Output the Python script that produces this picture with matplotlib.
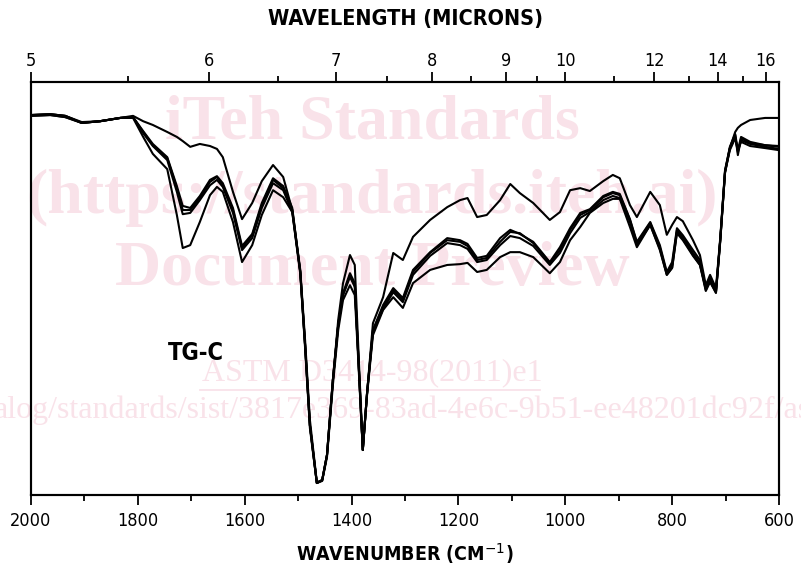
import matplotlib
matplotlib.use("Agg")
import matplotlib.pyplot as plt
import numpy as np

# wavenumber grid (cm-1)
wavenumber = [2000, 1964, 1936, 1905, 1871, 1833, 1809, 1790, 1772, 1745,
              1727, 1716, 1702, 1684, 1665, 1652, 1641, 1622, 1605, 1586,
              1568, 1547, 1528, 1511, 1496, 1487, 1478, 1465, 1455, 1446,
              1435, 1425, 1416, 1403, 1394, 1388, 1379, 1371, 1360, 1341,
              1322, 1304, 1285, 1253, 1221, 1197, 1183, 1165, 1147, 1122,
              1103, 1085, 1060, 1029, 1010, 991, 972, 954, 929, 911,
              898, 879, 866, 841, 823, 810, 800, 791, 780, 761,
              748, 737, 729, 718, 710, 701, 692, 682, 677, 671,
              654, 626, 600]

# transmittance (%) of the five spectra
spec_a = [92.0, 92.2, 91.8, 90.1, 90.5, 91.3, 91.8, 90.5, 89.6, 87.9,
          86.7, 85.7, 84.3, 85.0, 84.5, 83.8, 81.8, 73.4, 66.8, 70.7,
          76.0, 79.9, 77.0, 69.0, 54.5, 37.5, 18.2, 3.1, 3.6, 9.7,
          27.8, 42.4, 51.3, 58.1, 55.7, 37.5, 10.9, 24.7, 41.6, 47.9,
          58.6, 56.9, 62.5, 66.6, 69.7, 71.4, 71.9, 67.3, 67.8, 71.4,
          75.3, 73.1, 70.7, 66.6, 68.5, 73.8, 74.3, 73.6, 76.0, 77.5,
          76.7, 70.2, 67.3, 73.4, 70.2, 63.0, 65.4, 67.3, 66.3, 61.7,
          58.1, 50.8, 53.3, 50.1, 62.2, 78.7, 84.0, 87.9, 88.9, 89.6,
          90.8, 91.3, 91.3]
spec_b = [92.0, 92.2, 91.8, 90.1, 90.5, 91.3, 91.5, 87.9, 84.7, 81.6,
          74.3, 69.0, 69.0, 71.9, 75.8, 77.0, 75.0, 69.0, 59.8, 62.9,
          70.2, 76.3, 74.3, 69.0, 54.0, 36.3, 16.9, 2.9, 3.6, 9.7,
          27.8, 41.2, 48.4, 53.3, 50.8, 35.1, 10.9, 24.7, 39.9, 45.5,
          49.6, 47.2, 54.0, 58.6, 61.7, 61.3, 60.3, 56.9, 57.4, 61.3,
          63.7, 63.4, 61.0, 56.2, 59.3, 64.2, 67.8, 69.0, 72.1, 73.1,
          72.6, 66.6, 61.0, 65.9, 60.0, 53.7, 55.7, 64.2, 62.5, 58.6,
          56.2, 49.6, 52.1, 49.1, 61.7, 78.2, 84.0, 87.2, 82.3, 86.4,
          85.2, 84.7, 84.3]
spec_c = [91.8, 92.0, 91.5, 90.1, 90.5, 91.3, 91.5, 87.6, 84.5, 81.1,
          73.4, 68.0, 68.3, 71.4, 75.0, 76.3, 74.6, 68.3, 59.3, 62.2,
          69.5, 75.5, 73.8, 68.5, 54.0, 36.3, 16.9, 2.9, 3.6, 9.7,
          27.8, 41.2, 48.4, 52.8, 50.4, 35.1, 10.9, 24.7, 39.5, 45.0,
          49.1, 46.7, 53.3, 57.9, 61.0, 60.5, 59.6, 56.4, 56.9, 60.5,
          62.7, 62.2, 60.3, 55.7, 58.6, 63.4, 67.1, 68.5, 71.4, 72.4,
          71.9, 66.1, 60.5, 65.4, 59.6, 53.3, 55.0, 63.7, 62.0, 58.1,
          55.7, 49.4, 51.6, 48.9, 61.3, 78.0, 83.8, 86.7, 83.0, 85.9,
          85.0, 84.3, 83.8]
spec_d = [92.0, 92.2, 91.8, 90.3, 90.5, 91.3, 91.5, 88.1, 85.0, 81.8,
          74.8, 70.0, 69.5, 72.4, 76.3, 77.2, 75.5, 69.5, 60.3, 63.2,
          70.7, 76.7, 74.8, 69.5, 54.0, 36.3, 16.9, 2.9, 3.6, 9.7,
          27.8, 41.2, 48.9, 53.7, 51.3, 35.1, 10.9, 24.7, 39.9, 46.0,
          50.1, 47.7, 54.5, 58.8, 62.2, 61.7, 60.8, 57.4, 57.9, 62.2,
          64.2, 63.2, 61.3, 56.4, 60.0, 64.6, 68.3, 69.2, 72.4, 73.4,
          72.9, 66.8, 61.3, 66.1, 60.5, 54.0, 56.4, 64.6, 62.9, 59.3,
          56.9, 50.1, 52.5, 49.4, 61.7, 78.4, 84.3, 87.4, 83.5, 86.7,
          85.5, 84.7, 84.5]
spec_e = [91.8, 92.0, 91.5, 90.1, 90.5, 91.3, 91.3, 86.7, 82.6, 78.9,
          67.8, 59.8, 60.5, 66.1, 72.6, 74.6, 73.4, 66.1, 56.4, 60.5,
          67.8, 73.8, 72.1, 68.5, 53.5, 35.6, 16.2, 2.9, 3.4, 9.2,
          26.6, 39.9, 47.2, 50.8, 48.4, 33.9, 10.9, 24.2, 38.7, 44.8,
          47.9, 45.3, 51.3, 54.5, 55.7, 55.9, 56.2, 54.0, 54.5, 57.6,
          58.8, 58.8, 57.6, 53.7, 56.4, 61.7, 64.9, 68.3, 70.7, 71.7,
          71.7, 64.9, 60.0, 65.4, 59.3, 53.3, 55.0, 63.4, 61.7, 57.9,
          55.7, 50.1, 51.6, 49.1, 61.7, 78.2, 83.5, 86.4, 83.5, 85.5,
          84.5, 84.0, 83.5]

bottom_ticks = [2000, 1800, 1600, 1400, 1200, 1000, 800, 600]
bottom_minor = [1900, 1700, 1500, 1300, 1100, 900, 700]
top_microns = [5, 6, 7, 8, 9, 10, 12, 14, 16]
top_minor_microns = [5.5, 6.5, 7.5, 8.5, 9.5, 11, 13, 15]

lab = dict(family="DejaVu Sans", fontstretch="condensed")

fig = plt.figure(figsize=(8.01, 5.67), dpi=100)
ax = fig.add_axes([31 / 801, 1 - 495 / 567, 748 / 801, 413 / 567])

# watermark
wm = "#f9e2e9"
cx = 0.456
ax.text(cx, 0.9, "iTeh Standards", transform=ax.transAxes, ha="center", va="center",
        fontsize=46, fontweight="bold", family="Liberation Serif", color=wm, zorder=0)
ax.text(cx, 0.72, "(https://standards.iteh.ai)", transform=ax.transAxes, ha="center", va="center",
        fontsize=46, fontweight="bold", family="Liberation Serif", color=wm, zorder=0)
ax.text(cx, 0.545, "Document Preview", transform=ax.transAxes, ha="center", va="center",
        fontsize=46, fontweight="bold", family="Liberation Serif", color=wm, zorder=0)
ax.text(cx, 0.297, "ASTM D3414-98(2011)e1", transform=ax.transAxes, ha="center", va="center",
        fontsize=23, family="Liberation Serif", color=wm, zorder=0)
ax.plot([0.226, 0.681], [0.255, 0.255], transform=ax.transAxes, color=wm, lw=1.3, zorder=0)
ax.text(0.497, 0.205, "alog/standards/sist/3817e369-83ad-4e6c-9b51-ee48201dc92f/as",
        transform=ax.transAxes, ha="center", va="center",
        fontsize=23, family="Liberation Serif", color=wm, zorder=0, clip_on=False)

for s in (spec_a, spec_b, spec_c, spec_d, spec_e):
    ax.plot(wavenumber, s, color="black", lw=1.5, zorder=3, solid_joinstyle="round")

ax.set_xlim(2000, 600)
ax.set_ylim(0, 100)
ax.set_yticks([])
ax.set_xticks(bottom_ticks)
ax.set_xticks(bottom_minor, minor=True)
ax.set_xticklabels([str(t) for t in bottom_ticks], fontsize=13, **lab)
ax.tick_params(axis="x", which="major", direction="out", length=7, width=1.3, pad=5)
ax.tick_params(axis="x", which="minor", direction="out", length=4, width=1.3)
for sp in ax.spines.values():
    sp.set_linewidth(1.5)

ax.text(0.22, 0.344, "TG-C", transform=ax.transAxes, fontsize=17, fontweight="bold",
        ha="center", va="center", zorder=4, **lab)

ax.set_xlabel("WAVENUMBER (CM$^{-1}$)", fontweight="bold", fontsize=14, labelpad=8, **lab)

top = ax.twiny()
top.set_xlim(ax.get_xlim())
top.set_xticks([10000 / m for m in top_microns])
top.set_xticklabels([str(m) for m in top_microns], fontsize=13, **lab)
top.set_xticks([10000 / m for m in top_minor_microns], minor=True)
top.tick_params(axis="x", which="major", direction="out", length=7, width=1.3, pad=2)
top.tick_params(axis="x", which="minor", direction="out", length=4, width=1.3)
top.set_xlabel("WAVELENGTH (MICRONS)", fontweight="bold", fontsize=15.5, labelpad=19, **lab)
for sp in top.spines.values():
    sp.set_linewidth(1.5)

fig.savefig("out.png", dpi=100)
